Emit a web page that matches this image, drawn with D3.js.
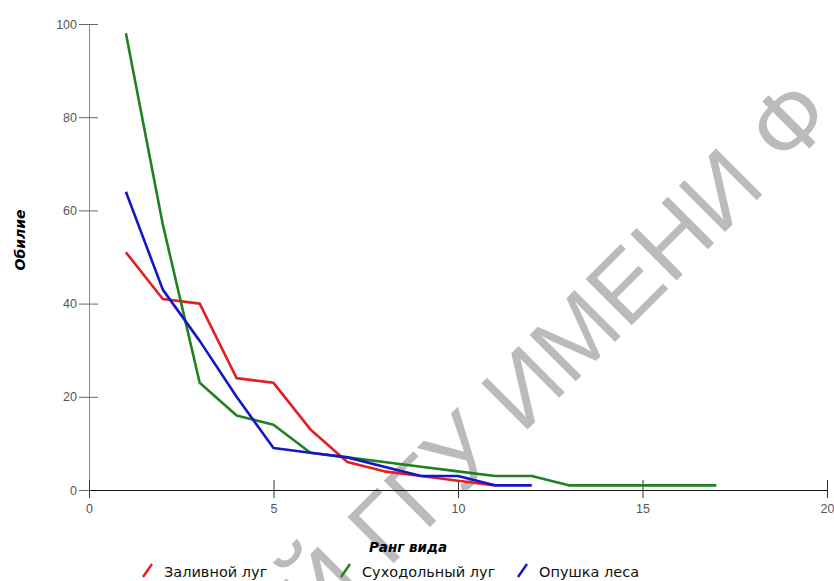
<!DOCTYPE html>
<html>
<head>
<meta charset="utf-8">
<script src="https://cdn.jsdelivr.net/npm/d3@7"></script>
<style>
  body { margin: 0; background: #fff; }
  svg { display: block; }
</style>
</head>
<body>
<div class="chart"></div>
<script>
// Rank-abundance curves, values
const ranksMeadow = [1, 2, 3, 4, 5, 6, 7, 8, 9, 10, 11];
const valuesMeadow = [51, 41, 40, 24, 23, 13, 6, 4, 3, 2, 1];

const ranksDry = [1, 2, 3, 4, 5, 6, 7, 8, 9, 10, 11, 12, 13, 14, 15, 16, 17];
const valuesDry = [98, 57, 23, 16, 14, 8, 7, 6, 5, 4, 3, 3, 1, 1, 1, 1, 1];

const ranksEdge = [1, 2, 3, 4, 5, 6, 7, 8, 9, 10, 11, 12];
const valuesEdge = [64, 43, 32, 20, 9, 8, 7, 5, 3, 3, 1, 1];

const seriesNames = ["Заливной луг", "Суходольный луг", "Опушка леса"];
const seriesColors = ["#e21f22", "#1f821f", "#1616c8"];

const xTicks = [0, 5, 10, 15, 20];
const yTicks = [0, 20, 40, 60, 80, 100];

const xTitle = "Ранг вида";
const yTitle = "Обилие";
const watermarkHead = "РЕПОЗИТОРИЙ ГГУ";
const watermarkTail = "ИМЕНИ Ф. СКОРИНЫ";

const width = 834;
const height = 581;
const margin = { top: 24, right: 7, bottom: 91, left: 89 };

const svg = d3
  .select(".chart")
  .append("svg")
  .attr("width", width)
  .attr("height", height);

const x = d3
  .scaleLinear()
  .domain([0, 20])
  .range([margin.left, width - margin.right]);

const y = d3
  .scaleLinear()
  .domain([0, 100])
  .range([height - margin.bottom, margin.top]);

// watermark, sits behind the chart
const wm = svg
  .append("g")
  .attr("transform", "translate(522,435) rotate(-45)")
  .style("font-family", "'Liberation Sans', Arial, sans-serif")
  .style("font-size", "95px")
  .attr("fill", "#bbbbbb");
wm.append("text").attr("x", -26).attr("text-anchor", "end").text(watermarkHead);
wm.append("text").attr("x", 0).text(watermarkTail);

// y axis
const yAxis = svg
  .append("g")
  .attr("transform", "translate(" + margin.left + ",0)")
  .call(d3.axisLeft(y).tickValues(yTicks).tickSize(10).tickPadding(2).tickSizeOuter(0));
yAxis.select(".domain").attr("stroke", "#8a8a8a");
yAxis.selectAll(".tick line").attr("x1", 9).attr("stroke", "#6a6a6a");
yAxis
  .selectAll(".tick text")
  .attr("fill", "#555")
  .style("font-family", "'Liberation Sans', Arial, sans-serif")
  .style("font-size", "12.5px");

// x axis
const xAxis = svg
  .append("g")
  .attr("transform", "translate(0," + y(0) + ")")
  .call(d3.axisBottom(x).tickValues(xTicks).tickSize(8).tickPadding(6).tickSizeOuter(0));
xAxis.select(".domain").attr("stroke", "#111");
xAxis.selectAll(".tick line").attr("y1", -10).attr("stroke", "#333");
xAxis
  .selectAll(".tick text")
  .attr("fill", "#555")
  .style("font-family", "'Liberation Sans', Arial, sans-serif")
  .style("font-size", "12.5px");

// axis titles
svg
  .append("text")
  .attr("transform", "translate(25,240) rotate(-90)")
  .attr("text-anchor", "middle")
  .style("font-family", "'DejaVu Sans', Verdana, sans-serif")
  .style("font-size", "14px")
  .style("font-weight", "bold")
  .style("font-style", "italic")
  .text(yTitle);

svg
  .append("text")
  .attr("x", 408)
  .attr("y", 552)
  .attr("text-anchor", "middle")
  .style("font-family", "'DejaVu Sans', Verdana, sans-serif")
  .style("font-size", "13.5px")
  .style("font-weight", "bold")
  .style("font-style", "italic")
  .text(xTitle);

// lines
const series = [
  { name: seriesNames[0], color: seriesColors[0], pts: d3.zip(ranksMeadow, valuesMeadow) },
  { name: seriesNames[1], color: seriesColors[1], pts: d3.zip(ranksDry, valuesDry) },
  { name: seriesNames[2], color: seriesColors[2], pts: d3.zip(ranksEdge, valuesEdge) },
];

const line = d3
  .line()
  .x((d) => x(d[0]))
  .y((d) => y(d[1]));

svg
  .selectAll(".series")
  .data(series)
  .join("path")
  .attr("class", "series")
  .attr("fill", "none")
  .attr("stroke", (d) => d.color)
  .attr("stroke-width", 2.6)
  .attr("stroke-linejoin", "round")
  .attr("d", (d) => line(d.pts));

// legend
const legendX = [142, 340, 517];
const legend = svg
  .selectAll(".legend")
  .data(series)
  .join("g")
  .attr("class", "legend")
  .attr("transform", (d, i) => "translate(" + legendX[i] + ",577)");

legend
  .append("line")
  .attr("x1", 1)
  .attr("y1", 0)
  .attr("x2", 10)
  .attr("y2", -13)
  .attr("stroke", (d) => d.color)
  .attr("stroke-width", 2.4);

legend
  .append("text")
  .attr("x", 22)
  .attr("y", 0)
  .attr("fill", "#111")
  .style("font-family", "'DejaVu Sans', Verdana, sans-serif")
  .style("font-size", "14.5px")
  .text((d) => d.name);
</script>
</body>
</html>
